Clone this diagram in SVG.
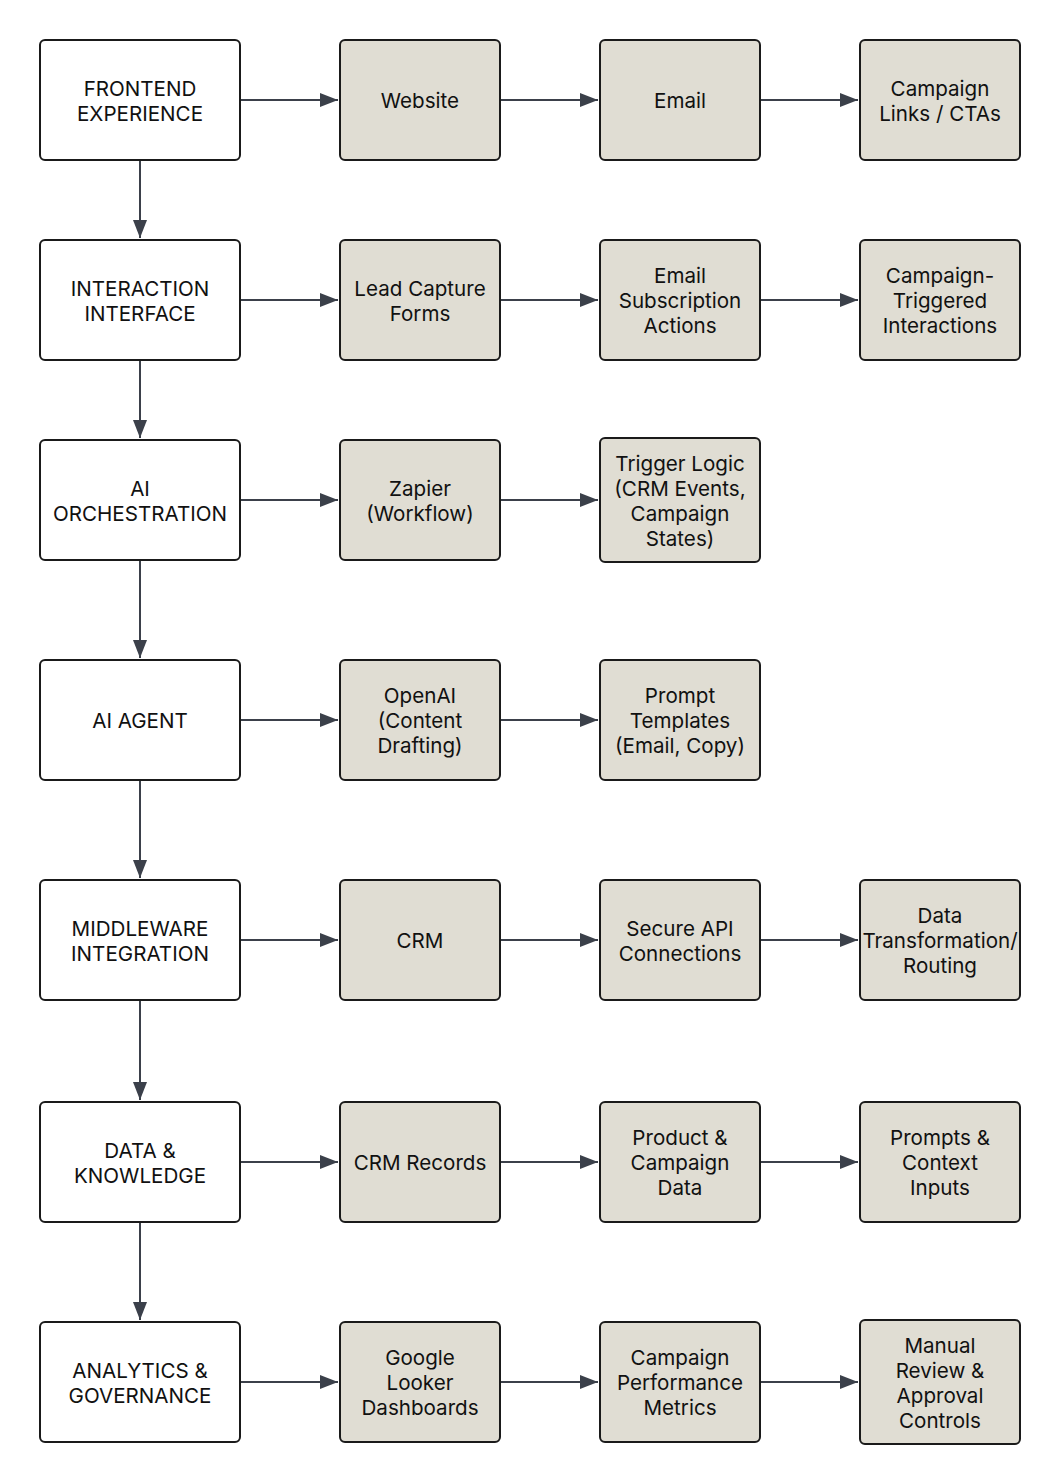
<svg xmlns="http://www.w3.org/2000/svg" width="1060" height="1484" viewBox="0 0 1060 1484">
<defs>
<marker id="ahl" viewBox="0 0 18 14" refX="18" refY="7" markerWidth="18" markerHeight="14" markerUnits="userSpaceOnUse" orient="auto">
<path d="M0,0 L18,7 L0,14 z" fill="#3b404a"/>
</marker>
</defs>
<style>
.m{fill:#ffffff;stroke:#1a1a1a;stroke-width:2}
.s{fill:#e0ddd3;stroke:#1a1a1a;stroke-width:2}
text{font-family:Inter,"Noto Sans","Liberation Sans",sans-serif;font-size:20.6px;fill:#111111;text-anchor:middle;dominant-baseline:central}
.c line{stroke:#3b404a;stroke-width:2;marker-end:url(#ahl)}
</style>
<rect width="1060" height="1484" fill="#ffffff"/>
<g class="c" id="connectors">
<line x1="140" y1="160" x2="140" y2="238"/>
<line x1="140" y1="360" x2="140" y2="438"/>
<line x1="140" y1="560" x2="140" y2="658"/>
<line x1="140" y1="780" x2="140" y2="878"/>
<line x1="140" y1="1000" x2="140" y2="1100"/>
<line x1="140" y1="1222" x2="140" y2="1320"/>
<line x1="240" y1="100" x2="338" y2="100"/>
<line x1="500" y1="100" x2="598" y2="100"/>
<line x1="760" y1="100" x2="858" y2="100"/>
<line x1="240" y1="300" x2="338" y2="300"/>
<line x1="500" y1="300" x2="598" y2="300"/>
<line x1="760" y1="300" x2="858" y2="300"/>
<line x1="240" y1="500" x2="338" y2="500"/>
<line x1="500" y1="500" x2="598" y2="500"/>
<line x1="240" y1="720" x2="338" y2="720"/>
<line x1="500" y1="720" x2="598" y2="720"/>
<line x1="240" y1="940" x2="338" y2="940"/>
<line x1="500" y1="940" x2="598" y2="940"/>
<line x1="760" y1="940" x2="858" y2="940"/>
<line x1="240" y1="1162" x2="338" y2="1162"/>
<line x1="500" y1="1162" x2="598" y2="1162"/>
<line x1="760" y1="1162" x2="858" y2="1162"/>
<line x1="240" y1="1382" x2="338" y2="1382"/>
<line x1="500" y1="1382" x2="598" y2="1382"/>
<line x1="760" y1="1382" x2="858" y2="1382"/>
</g>
<g id="frontend"><rect class="m" x="40" y="40" width="200" height="120" rx="5"/><text x="140" y="88">FRONTEND</text><text x="140" y="113">EXPERIENCE</text></g>
<g id="website"><rect class="s" x="340" y="40" width="160" height="120" rx="5"/><text x="420" y="100.5">Website</text></g>
<g id="email"><rect class="s" x="600" y="40" width="160" height="120" rx="5"/><text x="680" y="100.5">Email</text></g>
<g id="campaign-links"><rect class="s" x="860" y="40" width="160" height="120" rx="5"/><text x="940" y="88">Campaign</text><text x="940" y="113">Links / CTAs</text></g>
<g id="interaction"><rect class="m" x="40" y="240" width="200" height="120" rx="5"/><text x="140" y="288">INTERACTION</text><text x="140" y="313">INTERFACE</text></g>
<g id="lead-capture"><rect class="s" x="340" y="240" width="160" height="120" rx="5"/><text x="420" y="288">Lead Capture</text><text x="420" y="313">Forms</text></g>
<g id="email-sub"><rect class="s" x="600" y="240" width="160" height="120" rx="5"/><text x="680" y="275.5">Email</text><text x="680" y="300.5">Subscription</text><text x="680" y="325.5">Actions</text></g>
<g id="campaign-triggered"><rect class="s" x="860" y="240" width="160" height="120" rx="5"/><text x="940" y="275.5">Campaign-</text><text x="940" y="300.5">Triggered</text><text x="940" y="325.5">Interactions</text></g>
<g id="ai-orch"><rect class="m" x="40" y="440" width="200" height="120" rx="5"/><text x="140" y="488">AI</text><text x="140" y="513">ORCHESTRATION</text></g>
<g id="zapier"><rect class="s" x="340" y="440" width="160" height="120" rx="5"/><text x="420" y="488">Zapier</text><text x="420" y="513">(Workflow)</text></g>
<g id="trigger-logic"><rect class="s" x="600" y="438" width="160" height="124" rx="5"/><text x="680" y="463">Trigger Logic</text><text x="680" y="488">(CRM Events,</text><text x="680" y="513">Campaign</text><text x="680" y="538">States)</text></g>
<g id="ai-agent"><rect class="m" x="40" y="660" width="200" height="120" rx="5"/><text x="140" y="720.5">AI AGENT</text></g>
<g id="openai"><rect class="s" x="340" y="660" width="160" height="120" rx="5"/><text x="420" y="695.5">OpenAI</text><text x="420" y="720.5">(Content</text><text x="420" y="745.5">Drafting)</text></g>
<g id="prompt-templates"><rect class="s" x="600" y="660" width="160" height="120" rx="5"/><text x="680" y="695.5">Prompt</text><text x="680" y="720.5">Templates</text><text x="680" y="745.5">(Email, Copy)</text></g>
<g id="middleware"><rect class="m" x="40" y="880" width="200" height="120" rx="5"/><text x="140" y="928">MIDDLEWARE</text><text x="140" y="953">INTEGRATION</text></g>
<g id="crm"><rect class="s" x="340" y="880" width="160" height="120" rx="5"/><text x="420" y="940.5">CRM</text></g>
<g id="secure-api"><rect class="s" x="600" y="880" width="160" height="120" rx="5"/><text x="680" y="928">Secure API</text><text x="680" y="953">Connections</text></g>
<g id="data-transform"><rect class="s" x="860" y="880" width="160" height="120" rx="5"/><text x="940" y="915.5">Data</text><text x="940" y="940.5">Transformation/</text><text x="940" y="965.5">Routing</text></g>
<g id="data-knowledge"><rect class="m" x="40" y="1102" width="200" height="120" rx="5"/><text x="140" y="1150">DATA &amp;</text><text x="140" y="1175">KNOWLEDGE</text></g>
<g id="crm-records"><rect class="s" x="340" y="1102" width="160" height="120" rx="5"/><text x="420" y="1162.5">CRM Records</text></g>
<g id="product-campaign"><rect class="s" x="600" y="1102" width="160" height="120" rx="5"/><text x="680" y="1137.5">Product &amp;</text><text x="680" y="1162.5">Campaign</text><text x="680" y="1187.5">Data</text></g>
<g id="prompts-context"><rect class="s" x="860" y="1102" width="160" height="120" rx="5"/><text x="940" y="1137.5">Prompts &amp;</text><text x="940" y="1162.5">Context</text><text x="940" y="1187.5">Inputs</text></g>
<g id="analytics"><rect class="m" x="40" y="1322" width="200" height="120" rx="5"/><text x="140" y="1370">ANALYTICS &amp;</text><text x="140" y="1395">GOVERNANCE</text></g>
<g id="looker"><rect class="s" x="340" y="1322" width="160" height="120" rx="5"/><text x="420" y="1357.5">Google</text><text x="420" y="1382.5">Looker</text><text x="420" y="1407.5">Dashboards</text></g>
<g id="campaign-metrics"><rect class="s" x="600" y="1322" width="160" height="120" rx="5"/><text x="680" y="1357.5">Campaign</text><text x="680" y="1382.5">Performance</text><text x="680" y="1407.5">Metrics</text></g>
<g id="manual-review"><rect class="s" x="860" y="1320" width="160" height="124" rx="5"/><text x="940" y="1345">Manual</text><text x="940" y="1370">Review &amp;</text><text x="940" y="1395">Approval</text><text x="940" y="1420">Controls</text></g>
</svg>
